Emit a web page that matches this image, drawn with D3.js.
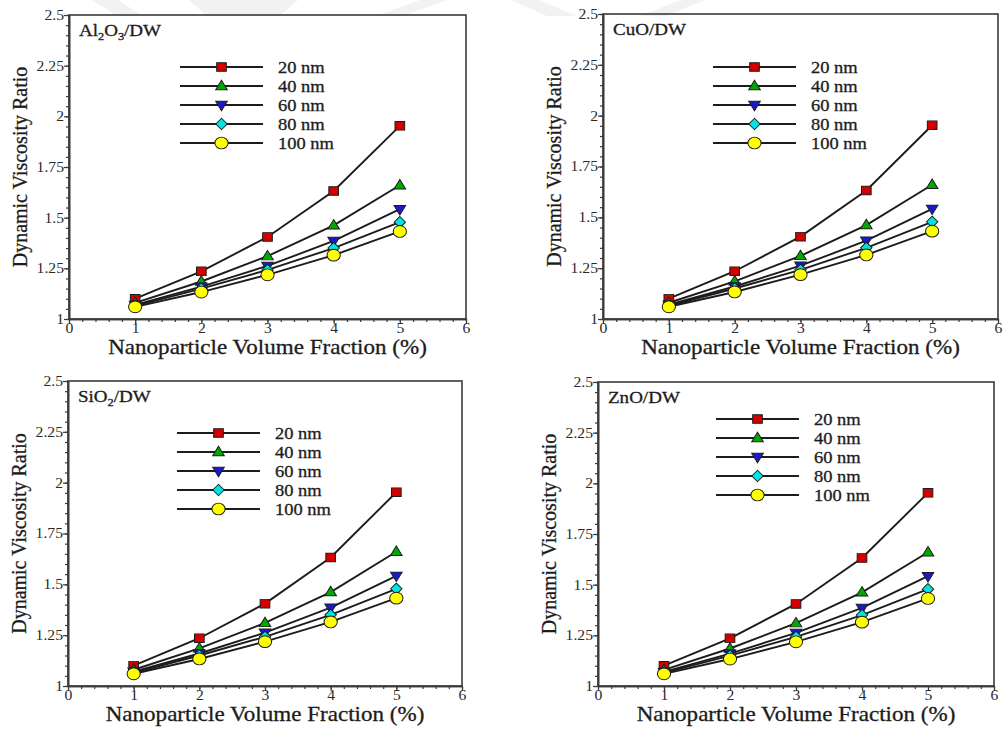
<!DOCTYPE html>
<html>
<head>
<meta charset="utf-8">
<script src="https://cdn.jsdelivr.net/npm/d3@7/dist/d3.min.js"></script>
<style>
  html, body { margin: 0; padding: 0; background: #ffffff; }
  svg { display: block; }
  svg text { font-family: "Liberation Serif", "Times New Roman", serif !important; }
</style>
</head>
<body>
<svg id="chart" width="1003" height="729"></svg>
<script>
// Volume fractions (%) on the x axis
const fractions = [1, 2, 3, 4, 5];

// Particle sizes shown in each legend
const sizes = ["20 nm", "40 nm", "60 nm", "80 nm", "100 nm"];

// Dynamic viscosity ratio for each particle size
const ratio20  = [1.100, 1.235, 1.405, 1.632, 1.953];
const ratio40  = [1.080, 1.185, 1.310, 1.462, 1.660];
const ratio60  = [1.070, 1.160, 1.262, 1.385, 1.542];
const ratio80  = [1.065, 1.150, 1.242, 1.350, 1.478];
const ratio100 = [1.060, 1.133, 1.218, 1.315, 1.432];

// Tick values and labels
const xTicks = [0, 1, 2, 3, 4, 5, 6];
const yTicks = [1, 1.25, 1.5, 1.75, 2, 2.25, 2.5];
const yTickLabels = ["1", "1.25", "1.5", "1.75", "2", "2.25", "2.5"];

// Panel titles, split into [text, isSubscript] pieces
const panelTitles = [
  [["Al", false], ["2", true], ["O", false], ["3", true], ["/DW", false]],
  [["CuO/DW", false]],
  [["SiO", false], ["2", true], ["/DW", false]],
  [["ZnO/DW", false]]
];

const xTitle = "Nanoparticle Volume Fraction (%)";
const yTitle = "Dynamic Viscosity Ratio";

// ---- styling / layout -------------------------------------------------
const FONT = "'Liberation Serif', 'Times New Roman', serif";
const SX = 1.12;               // horizontal stretch of glyphs and markers
const INK = "#1c1c1c";
const fills = ["#d40000", "#00a800", "#1a1acc", "#00e4e4", "#ffff00"];
const shapes = ["square", "triangleUp", "triangleDown", "diamond", "circle"];

const panels = [
  { left: 69,  right: 466, top: 15,  bottom: 319, legX0: 180, legX1: 263, legText: 278, legY: 67 },
  { left: 603, right: 998, top: 14,  bottom: 319, legX0: 713, legX1: 796, legText: 811, legY: 67 },
  { left: 68,  right: 462, top: 381, bottom: 686, legX0: 177, legX1: 260, legText: 275, legY: 433 },
  { left: 598, right: 994, top: 382, bottom: 686, legX0: 716, legX1: 799, legText: 814, legY: 419 }
];

const svg = d3.select("#chart");

// faint background shapes along the top edge
const bgShapes = [
  [[92, 0], [118, 0], [143, 16], [117, 16]],
  [[189, 0], [298, 0], [280, 16], [207, 16]],
  [[420, 0], [447, 0], [403, 16], [376, 16]],
  [[511, 0], [540, 0], [576, 16], [547, 16]],
  [[680, 0], [705, 0], [665, 16], [640, 16]]
];
svg.selectAll("polygon.bg").data(bgShapes).join("polygon")
  .attr("class", "bg")
  .attr("points", d => d.map(p => p.join(",")).join(" "))
  .attr("fill", "#f2f2f2");

const series = [ratio20, ratio40, ratio60, ratio80, ratio100];

function markerPath(shape) {
  switch (shape) {
    case "square": return "M-4.3,-4.3H4.3V4.3H-4.3Z";
    case "triangleUp": return "M0,-5.8L5.2,3.7L-5.2,3.7Z";
    case "triangleDown": return "M0,5.8L5.2,-3.7L-5.2,-3.7Z";
    case "diamond": return "M0,-5.7L5.1,0L0,5.7L-5.1,0Z";
    default: return "M-5.9,0A5.9,5.9 0 1,0 5.9,0A5.9,5.9 0 1,0 -5.9,0Z";
  }
}

function drawMarker(g, x, y, i) {
  g.append("path")
    .attr("d", markerPath(shapes[i]))
    .attr("transform", `translate(${x},${y}) scale(${SX},1)`)
    .attr("fill", fills[i])
    .attr("stroke", INK)
    .attr("stroke-width", 0.9);
}

function stretchedText(g, x, y, anchor, size) {
  return g.append("g")
    .attr("transform", `translate(${x},${y}) scale(${SX},1)`)
    .append("text")
    .attr("text-anchor", anchor)
    .style("font-family", FONT)
    .attr("font-size", size)
    .attr("fill", INK)
    .attr("stroke", INK)
    .attr("stroke-width", 0.3);
}

panels.forEach((p, pi) => {
  const g = svg.append("g");
  const x = d3.scaleLinear().domain([0, 6]).range([p.left, p.right]);
  const y = d3.scaleLinear().domain([1, 2.5]).range([p.bottom, p.top]);

  // plot frame
  g.append("rect")
    .attr("x", p.left).attr("y", p.top)
    .attr("width", p.right - p.left).attr("height", p.bottom - p.top)
    .attr("fill", "none").attr("stroke", "#3a3a3a").attr("stroke-width", 1.6);

  // x axis: minor ticks then major ticks with labels
  const xMinor = g.append("g").attr("transform", `translate(0,${p.bottom})`)
    .call(d3.axisBottom(x).tickValues(d3.range(0, 6.001, 0.2)).tickSize(3).tickSizeOuter(0).tickFormat(""));
  const xMajor = g.append("g").attr("transform", `translate(0,${p.bottom})`)
    .call(d3.axisBottom(x).tickValues(xTicks).tickSize(5).tickSizeOuter(0).tickFormat(d3.format("d")));

  // y axis
  const yMinor = g.append("g").attr("transform", `translate(${p.left},0)`)
    .call(d3.axisLeft(y).tickValues(d3.range(1, 2.5001, 0.05)).tickSize(3).tickSizeOuter(0).tickFormat(""));
  const yMajor = g.append("g").attr("transform", `translate(${p.left},0)`)
    .call(d3.axisLeft(y).tickValues(yTicks).tickSize(5).tickSizeOuter(0)
      .tickFormat((d, i) => yTickLabels[i]));

  [xMinor, xMajor, yMinor, yMajor].forEach(a => {
    a.attr("font-family", null);
    a.select(".domain").attr("stroke", "#3a3a3a").attr("stroke-width", 1.6);
    a.selectAll(".tick line").attr("stroke", "#3a3a3a").attr("stroke-width", 1.2);
  });
  xMajor.selectAll(".tick text")
    .style("font-family", FONT)
    .attr("font-size", 14).attr("fill", "#2a2a2a")
    .attr("y", 4).attr("dy", "0.71em")
    .attr("transform", `scale(${SX},1)`);
  yMajor.selectAll(".tick text")
    .style("font-family", FONT)
    .attr("font-size", 14).attr("fill", "#2a2a2a")
    .attr("x", -5 / SX).attr("dy", "0.32em")
    .attr("transform", `scale(${SX},1)`);

  // axis titles
  stretchedText(g, (p.left + p.right) / 2, p.bottom + 35, "middle", 20.6).text(xTitle);
  g.append("text")
    .attr("transform", `translate(${p.left - 42},${(p.top + p.bottom) / 2}) rotate(-90)`)
    .attr("text-anchor", "middle")
    .style("font-family", FONT)
    .attr("font-size", 20).attr("fill", INK)
    .attr("stroke", INK).attr("stroke-width", 0.3)
    .text(yTitle);

  // panel title with subscripts
  const t = stretchedText(g, p.left + 10, p.top + 21, "start", 17);
  panelTitles[pi].forEach(([s, sub]) => {
    const ts = t.append("tspan").text(s);
    if (sub) ts.attr("font-size", 11).attr("baseline-shift", "-30%");
  });

  // series lines
  const line = d3.line().x((d, i) => x(fractions[i])).y(d => y(d));
  series.forEach(vals => {
    g.append("path").attr("d", line(vals))
      .attr("fill", "none").attr("stroke", INK).attr("stroke-width", 1.9);
  });
  // series markers
  series.forEach((vals, si) => {
    vals.forEach((v, i) => drawMarker(g, x(fractions[i]), y(v), si));
  });

  // legend
  sizes.forEach((label, i) => {
    const ly = p.legY + i * 19;
    g.append("line").attr("x1", p.legX0).attr("x2", p.legX1)
      .attr("y1", ly).attr("y2", ly)
      .attr("stroke", INK).attr("stroke-width", 1.9);
    drawMarker(g, (p.legX0 + p.legX1) / 2, ly, i);
    stretchedText(g, p.legText, ly + 5.5, "start", 16.5).text(label);
  });
});
</script>
</body>
</html>
